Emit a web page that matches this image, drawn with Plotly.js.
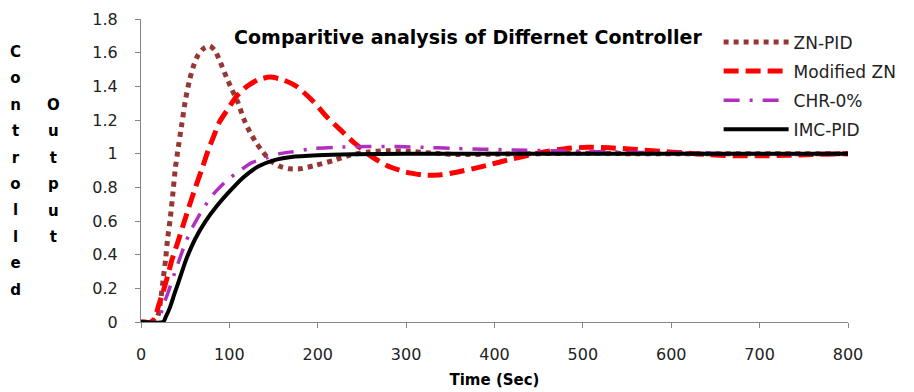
<!DOCTYPE html>
<html>
<head>
<meta charset="utf-8">
<script src="https://cdn.plot.ly/plotly-3.0.1.min.js"></script>
<style>html,body{margin:0;padding:0;background:#fff;}#chart{width:914px;height:392px;}</style>
</head>
<body>
<div id="chart"></div>
<script>
// ---- data ----
const seriesNames = ["ZN-PID", "Modified ZN", "CHR-0%", "IMC-PID"];

const znT = [0,10,18,22,25,28,30,33,36,39,42,46,50,55,60,65,71,78,84,90,97,103,110,116,123,131,138,146,157,168,180,197,218,236,257,278,300,330,360,400,450,500,550,600,700,800];
const znY = [0,0,0.02,0.12,0.25,0.38,0.49,0.61,0.76,0.92,1.03,1.17,1.31,1.44,1.53,1.59,1.625,1.64,1.61,1.54,1.45,1.38,1.30,1.21,1.13,1.06,1.01,0.96,0.925,0.91,0.91,0.93,0.96,0.99,1.01,1.017,1.015,1.003,0.995,0.997,1.0,1.003,1.0,1.0,1.0,1.0];

const mzT = [0,12,16,20,25,30,35,42,48,54,61,69,76,82,89,99,108,120,133,146,160,176,195,210,226,240,259,278,300,320,340,357,375,391,421,451,480,505,530,560,590,613,640,670,700,730,760,800];
const mzY = [0,0,0.03,0.10,0.18,0.27,0.37,0.48,0.58,0.68,0.79,0.91,1.02,1.10,1.19,1.27,1.34,1.40,1.44,1.455,1.44,1.40,1.31,1.22,1.14,1.07,0.99,0.93,0.89,0.873,0.875,0.89,0.91,0.93,0.97,1.005,1.03,1.038,1.035,1.025,1.013,1.005,0.995,0.988,0.987,0.99,0.995,1.0];

const chrT = [0,18,22,26,31,38,44,51,59,70,82,97,112,125,142,157,172,195,220,255,290,320,350,420,490,550,620,700,800];
const chrY = [0,0,0.04,0.11,0.18,0.29,0.38,0.48,0.57,0.67,0.76,0.84,0.90,0.945,0.975,1.0,1.012,1.03,1.038,1.042,1.042,1.038,1.032,1.022,1.015,1.008,1.003,1.0,1.0];

const imcT = [0,25,28,33,38,42,51,61,72,86,101,116,133,150,170,200,240,300,400,500,600,700,800];
const imcY = [0,0,0.03,0.09,0.17,0.23,0.37,0.49,0.59,0.69,0.78,0.86,0.925,0.96,0.98,0.99,0.996,1.0,1.0,1.0,1.0,1.0,1.0];

const xTickVals = [0,100,200,300,400,500,600,700,800];
const yTickVals = [0,0.2,0.4,0.6,0.8,1,1.2,1.4,1.6,1.8];
const yTickText = ["0","0.2","0.4","0.6","0.8","1","1.2","1.4","1.6","1.8"];

const titleText = "Comparitive analysis of Differnet Controller";
const xTitle = "Time (Sec)";
const yWord1 = "Controlled";
const yWord2 = "Output";

// ---- figure ----
const FONT = "DejaVu Sans, sans-serif";
const traces = [
  {x: znT, y: znY, name: seriesNames[0], legendgroup: "a", mode: "lines", line: {color: "#953735", width: 5, dash: "5px,5px", shape: "spline", smoothing: 0.6}},
  {x: mzT, y: mzY, name: seriesNames[1], legendgroup: "b", mode: "lines", line: {color: "#ff0000", width: 5, dash: "15px,7px", shape: "spline", smoothing: 0.6}},
  {x: chrT, y: chrY, name: seriesNames[2], legendgroup: "c", mode: "lines", line: {color: "#b02fc0", width: 3.5, dash: "16px,10px,3px,10px", shape: "spline", smoothing: 0.6}},
  {x: imcT, y: imcY, name: seriesNames[3], legendgroup: "d", mode: "lines", line: {color: "#000000", width: 4, shape: "spline", smoothing: 0.6}}
];

function stack(word) {
  return word.split("").map(c => '<span style="font-size:15px">' + c + '</span>').join("<br>");
}

const layout = {
  width: 914, height: 392,
  margin: {l: 141, r: 66, t: 19, b: 70, pad: 0},
  paper_bgcolor: "#ffffff", plot_bgcolor: "#ffffff",
  font: {family: FONT, size: 15, color: "#222"},
  showlegend: true,
  title: {text: "<b>" + titleText + "</b>", font: {family: FONT, size: 19, color: "#000"}, xref: "container", yref: "container", x: 0.512, y: 1 - 37/392, xanchor: "center", yanchor: "middle"},
  xaxis: {
    range: [0, 800], tickvals: xTickVals, ticks: "outside", ticklen: 5, tickcolor: "#868686",
    showline: true, linecolor: "#868686", linewidth: 1, showgrid: false, zeroline: false,
    ticklabelstandoff: 13, tickfont: {family: FONT, size: 16, color: "#222"},
    title: {text: "<b>" + xTitle + "</b>", font: {family: FONT, size: 15, color: "#000"}, standoff: 11}
  },
  yaxis: {
    range: [0, 1.8], tickvals: yTickVals, ticktext: yTickText, ticks: "outside", ticklen: 5, tickcolor: "#868686",
    showline: true, linecolor: "#868686", linewidth: 1, showgrid: false, zeroline: false,
    ticklabelstandoff: 14, tickfont: {family: FONT, size: 16, color: "#222"}
  },
  legend: {x: 0.817, y: 0.982, xanchor: "left", yanchor: "top", bgcolor: "rgba(255,255,255,0)", font: {family: FONT, size: 17, color: "#222"}, itemwidth: 65, tracegroupgap: 4},
  annotations: [
    {xref: "paper", yref: "paper", x: (15 - 141) / 707, y: 0.5, xanchor: "center", yanchor: "middle", showarrow: false, text: "<b>" + stack(yWord1) + "</b>", font: {family: FONT, size: 20.3, color: "#000"}},
    {xref: "paper", yref: "paper", x: (53 - 141) / 707, y: 0.5, xanchor: "center", yanchor: "middle", showarrow: false, text: "<b>" + stack(yWord2) + "</b>", font: {family: FONT, size: 20.3, color: "#000"}}
  ]
};

Plotly.newPlot("chart", traces, layout, {displayModeBar: false, staticPlot: true});
</script>
</body>
</html>
